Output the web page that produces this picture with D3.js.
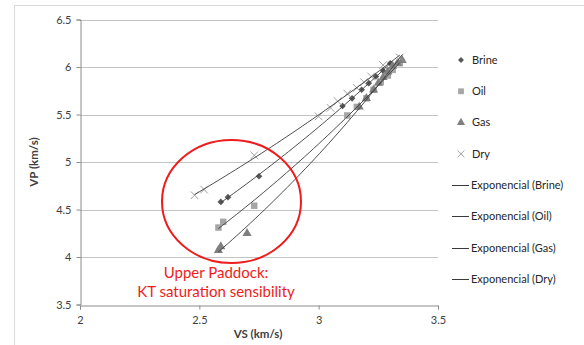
<!DOCTYPE html>
<html>
<head>
<meta charset="utf-8">
<script src="https://cdn.jsdelivr.net/npm/d3@7"></script>
<style>
html,body{margin:0;padding:0;background:#fff;}
svg{display:block;font-family:Lato,"Liberation Sans",sans-serif;}
</style>
</head>
<body>
<svg id="chart" width="584" height="345"></svg>
<script>
// ---- data (VS km/s, VP km/s) ----
const brineVS = [2.59, 2.62, 2.75, 3.10, 3.14, 3.18, 3.21, 3.24, 3.27, 3.30];
const brineVP = [4.58, 4.63, 4.85, 5.59, 5.67, 5.76, 5.83, 5.90, 5.96, 6.04];
const oilVS   = [2.58, 2.60, 2.73, 3.12, 3.16, 3.20, 3.23, 3.26, 3.29, 3.31, 3.34];
const oilVP   = [4.31, 4.37, 4.54, 5.49, 5.58, 5.67, 5.76, 5.84, 5.91, 5.97, 6.04];
const gasVS   = [2.58, 2.59, 2.70, 3.17, 3.20, 3.23, 3.25, 3.27, 3.29, 3.31, 3.33, 3.35];
const gasVP   = [4.07, 4.11, 4.25, 5.58, 5.67, 5.76, 5.83, 5.89, 5.95, 6.01, 6.04, 6.07];
const dryVS   = [2.48, 2.52, 2.73, 3.00, 3.05, 3.08, 3.12, 3.16, 3.19, 3.22, 3.27, 3.34];
const dryVP   = [4.65, 4.71, 5.07, 5.48, 5.57, 5.64, 5.72, 5.78, 5.84, 5.90, 6.02, 6.10];
const seriesNames = ["Brine", "Oil", "Gas", "Dry"];
const xTicks = [2, 2.5, 3, 3.5];
const yTicks = [3.5, 4, 4.5, 5, 5.5, 6, 6.5];
const annotation = ["Upper Paddock:", "KT saturation sensibility"];

const series = [
  {name: "Brine", vs: brineVS, vp: brineVP, symbol: d3.symbolDiamond2, size: 28, fill: "#595959"},
  {name: "Oil",   vs: oilVS,   vp: oilVP,   symbol: d3.symbolSquare,   size: 42, fill: "#a6a6a6"},
  {name: "Gas",   vs: gasVS,   vp: gasVP,   symbol: d3.symbolTriangle, size: 36, fill: "#7f7f7f"},
  {name: "Dry",   vs: dryVS,   vp: dryVP,   symbol: d3.symbolX,        size: 40, fill: "none", stroke: "#a0a0a0"}
];

const svg = d3.select("#chart");
// chart frame
svg.append("rect").attr("x", 14.5).attr("y", 5.5).attr("width", 620).attr("height", 400)
  .attr("fill", "none").attr("stroke", "#d9d9d9");

const x = d3.scaleLinear().domain([2, 3.5]).range([80, 438]);
const y = d3.scaleLinear().domain([3.5, 6.5]).range([304.5, 19.5]);

// gridlines
svg.append("g").selectAll("line").data(yTicks.filter(v => v > 3.5)).join("line")
  .attr("x1", x(2)).attr("x2", x(3.5))
  .attr("y1", d => Math.round(y(d)) + 0.5).attr("y2", d => Math.round(y(d)) + 0.5)
  .attr("stroke", "#c4c4c4").attr("stroke-width", 1);

// axes
const xAxis = d3.axisBottom(x).tickValues(xTicks).tickFormat(d3.format("")).tickSize(4).tickPadding(7);
const yAxis = d3.axisLeft(y).tickValues(yTicks).tickFormat(d3.format("")).tickSize(4).tickPadding(5);
const gx = svg.append("g").attr("transform", `translate(0,${Math.round(y(3.5)) + 0.5})`).call(xAxis);
const gy = svg.append("g").attr("transform", `translate(${x(2) + 0.5},0)`).call(yAxis);
[gx, gy].forEach(g => {
  g.select(".domain").attr("stroke", "#8c8c8c");
  g.selectAll(".tick line").attr("stroke", "#8c8c8c");
  g.selectAll("text").attr("fill", "#404040").style("font-size", "11px").style("font-family", "Lato, sans-serif");
});

// axis titles
svg.append("text").attr("x", 258).attr("y", 338).attr("text-anchor", "middle")
  .style("font-size", "11.5px").style("font-weight", "bold").attr("fill", "#404040").text("VS (km/s)");
svg.append("text").attr("transform", "translate(38,162) rotate(-90)").attr("text-anchor", "middle")
  .style("font-size", "11.5px").style("font-weight", "bold").attr("fill", "#404040").text("VP (km/s)");

// exponential trendlines (least squares on ln(VP)), spanning each series' VS range
function expFit(xs, ys) {
  const n = xs.length;
  const ly = ys.map(Math.log);
  const mx = d3.mean(xs), my = d3.mean(ly);
  let num = 0, den = 0;
  for (let i = 0; i < n; i++) { num += (xs[i] - mx) * (ly[i] - my); den += (xs[i] - mx) ** 2; }
  const b = num / den, a = Math.exp(my - b * mx);
  return v => a * Math.exp(b * v);
}

// markers
series.forEach(s => {
  const pts = s.vs.map((v, i) => [v, s.vp[i]]);
  svg.append("g").selectAll("path").data(pts).join("path")
    .attr("transform", d => `translate(${x(d[0])},${y(d[1])})`)
    .attr("d", d3.symbol(s.symbol, s.size))
    .attr("fill", s.fill)
    .attr("stroke", s.stroke || "none")
    .attr("stroke-width", s.stroke ? 1 : 0);
});

const line = d3.line().x(d => x(d[0])).y(d => y(d[1]));
series.forEach(s => {
  const f = expFit(s.vs, s.vp);
  const ext = d3.extent(s.vs);
  const pts = d3.range(0, 41).map(i => { const v = ext[0] + (ext[1] - ext[0]) * i / 40; return [v, f(v)]; });
  svg.append("path").datum(pts).attr("d", line).attr("fill", "none")
    .attr("stroke", "#3a3a3a").attr("stroke-width", 0.9);
});

// legend
const lg = svg.append("g");
const rowY = d3.scaleLinear().domain([0, 7]).range([60, 279]);
series.forEach((s, i) => {
  lg.append("path").attr("transform", `translate(461,${rowY(i)})`)
    .attr("d", d3.symbol(s.symbol, s.size * 0.8))
    .attr("fill", s.fill).attr("stroke", s.stroke || "none");
  lg.append("text").attr("x", 472).attr("y", rowY(i)).attr("dy", "0.35em")
    .style("font-size", "11px").attr("fill", "#262626").text(s.name);
});
seriesNames.forEach((n, i) => {
  const yy = Math.round(rowY(i + 4)) + 0.5;
  lg.append("line").attr("x1", 452).attr("x2", 469).attr("y1", yy).attr("y2", yy)
    .attr("stroke", "#3a3a3a").attr("stroke-width", 1);
  lg.append("text").attr("x", 471).attr("y", rowY(i + 4)).attr("dy", "0.35em")
    .style("font-size", "11px").attr("fill", "#262626").text(`Exponencial (${n})`);
});

// annotation
svg.append("ellipse").attr("cx", 231.5).attr("cy", 201.5).attr("rx", 69.5).attr("ry", 61.5)
  .attr("fill", "none").attr("stroke", "#ee1c1c").attr("stroke-width", 2);
svg.append("g").selectAll("text").data(annotation).join("text")
  .attr("x", 216).attr("y", (d, i) => 278 + i * 19).attr("text-anchor", "middle")
  .style("font-size", "15px").attr("fill", "#ee1c1c").text(d => d);
</script>
</body>
</html>
